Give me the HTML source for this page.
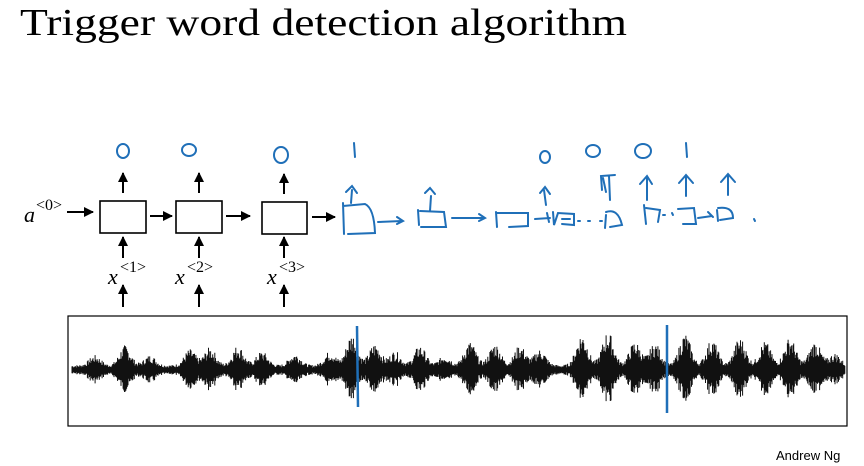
<!DOCTYPE html>
<html><head><meta charset="utf-8"><style>
body{margin:0;background:#fff;}
svg{display:block;}
</style></head><body>
<svg id="s" width="864" height="466" viewBox="0 0 864 466" xmlns="http://www.w3.org/2000/svg">
<defs><marker id="ah" viewBox="0 0 10 10" refX="9" refY="5" markerWidth="5" markerHeight="5" orient="auto"><path d="M0,0L10,5L0,10z" fill="#000"/></marker></defs>
<text x="20" y="35" font-family="Liberation Serif, serif" font-size="38" textLength="607" lengthAdjust="spacingAndGlyphs">Trigger word detection algorithm</text>

<g stroke="#000" stroke-width="2" fill="none">
<rect x="100" y="201" width="46" height="32" stroke-width="1.6"/>
<rect x="176" y="201" width="46" height="32" stroke-width="1.6"/>
<rect x="262" y="202" width="45" height="32" stroke-width="1.6"/>
<line x1="67" y1="212" x2="93" y2="212" marker-end="url(#ah)"/>
<line x1="150" y1="216" x2="172" y2="216" marker-end="url(#ah)"/>
<line x1="226" y1="216" x2="250" y2="216" marker-end="url(#ah)"/>
<line x1="312" y1="217" x2="335" y2="217" marker-end="url(#ah)"/>
<line x1="123" y1="193" x2="123" y2="173" marker-end="url(#ah)"/>
<line x1="199" y1="193" x2="199" y2="173" marker-end="url(#ah)"/>
<line x1="284" y1="194" x2="284" y2="174" marker-end="url(#ah)"/>
<line x1="123" y1="258" x2="123" y2="237" marker-end="url(#ah)"/>
<line x1="199" y1="258" x2="199" y2="237" marker-end="url(#ah)"/>
<line x1="284" y1="258" x2="284" y2="237" marker-end="url(#ah)"/>
<line x1="123" y1="307" x2="123" y2="285" marker-end="url(#ah)"/>
<line x1="199" y1="307" x2="199" y2="285" marker-end="url(#ah)"/>
<line x1="284" y1="307" x2="284" y2="285" marker-end="url(#ah)"/>
</g>
<g font-family="Liberation Serif, serif" font-style="italic" font-size="22">
<text x="24" y="222">a</text><text x="36" y="210" font-style="normal" font-size="16">&lt;0&gt;</text>
<text x="108" y="284">x</text><text x="120" y="272" font-style="normal" font-size="16">&lt;1&gt;</text>
<text x="175" y="284">x</text><text x="187" y="272" font-style="normal" font-size="16">&lt;2&gt;</text>
<text x="267" y="284">x</text><text x="279" y="272" font-style="normal" font-size="16">&lt;3&gt;</text>
</g>
<g stroke="#1f6fb8" stroke-width="2" fill="none" stroke-linecap="round">
<ellipse cx="123" cy="151" rx="6" ry="7"/>
<ellipse cx="189" cy="150" rx="7" ry="6"/>
<ellipse cx="281" cy="155" rx="7" ry="8"/>
<path d="M354 143 L355 157"/>
<path d="M343 203 L344 234 M343 206 L365 204 Q374 208 375 233 L348 234"/>
<path d="M351 203 L352 190 M346 192 L352 186 L357 193"/>
<path d="M378 222 L402 221 M397 217 L403 221 L397 224"/>
<path d="M418 210 L419 225 M420 211 L444 212 L446 227 L421 227"/>
<path d="M430 211 L431 196 M425 193 L430 188 L435 194"/>
<path d="M452 218 L484 218 M479 214 L485 218 L479 221"/>
<path d="M496 212 L497 227 M497 213 L528 213 L528 226 L509 227"/>
<path d="M535 219 L550 218 M547 213 L549 222 M553 212 L554 225 L558 213 L574 214 L574 225 L562 224 M562 219 L570 219"/>
<path d="M544 190 L546 205 M540 193 L545 187 L550 194"/>
<ellipse cx="545" cy="157" rx="5" ry="6"/>
<path d="M578 221 L580 221 M588 221 L590 221 M600 221 L602 221"/>
<path d="M605 228 L606 215 M606 212 Q618 208 622 225 L610 227"/>
<path d="M602 190 L601 176 L615 175 M609 176 L610 200 M603 178 L606 192"/>
<ellipse cx="593" cy="151" rx="7" ry="6"/>
<ellipse cx="643" cy="151" rx="8" ry="7"/>
<path d="M644 205 L646 224 M646 208 L660 210 L658 222"/>
<path d="M647 200 L647 177 M640 184 L647 176 L652 184"/>
<path d="M663 215 L665 215 M672 213 L673 215"/>
<path d="M678 209 L694 208 L696 224 L683 224"/>
<path d="M686 196 L686 175 M679 183 L686 175 L693 183"/>
<path d="M686 143 L687 157"/>
<path d="M698 218 L712 216 M708 212 L713 217 M717 210 L718 221 M718 208 Q733 206 733 218 L720 220 M754 219 L755 221"/>
<path d="M728 195 L728 175 M721 182 L728 174 L735 182"/>
</g>
<rect x="68" y="316" width="779" height="110" fill="none" stroke="#000" stroke-width="1.2"/>
<g id="wave" stroke="#000" stroke-width="1"></g>
<line x1="357" y1="326" x2="358" y2="407" stroke="#1f6fb8" stroke-width="2.5"/>
<line x1="667" y1="325" x2="667" y2="413" stroke="#1f6fb8" stroke-width="2.5"/>
<text x="776" y="460" font-family="Liberation Sans, sans-serif" font-size="13">Andrew Ng</text>
</svg>
<script>
var g=document.getElementById('wave'),d='';
var bursts=[[95,10],[125,20],[150,10],[190,16],[210,18],[238,20],[262,14],[295,12],[330,14],[352,32],[375,22],[395,14],[420,20],[445,10],[470,24],[495,22],[520,20],[540,16],[582,32],[608,34],[635,24],[655,22],[685,32],[712,26],[740,28],[765,24],[790,28],[815,24],[835,12]];
var seed=7;function r(){seed=(seed*9301+49297)%233280;return seed/233280;}
for(var x=72;x<845;x+=0.7){var a=5;for(var i=0;i<bursts.length;i++){var dx=(x-bursts[i][0])/8;a+=bursts[i][1]*Math.exp(-dx*dx);}
var h=a*(0.45+0.55*r());d+='M'+x.toFixed(1)+' '+(370-h).toFixed(1)+'V'+(370+h*0.9).toFixed(1);}
var p=document.createElementNS('http://www.w3.org/2000/svg','path');p.setAttribute('d',d);p.setAttribute('stroke','#111');p.setAttribute('stroke-width','1');g.appendChild(p);
</script>
</body></html>
